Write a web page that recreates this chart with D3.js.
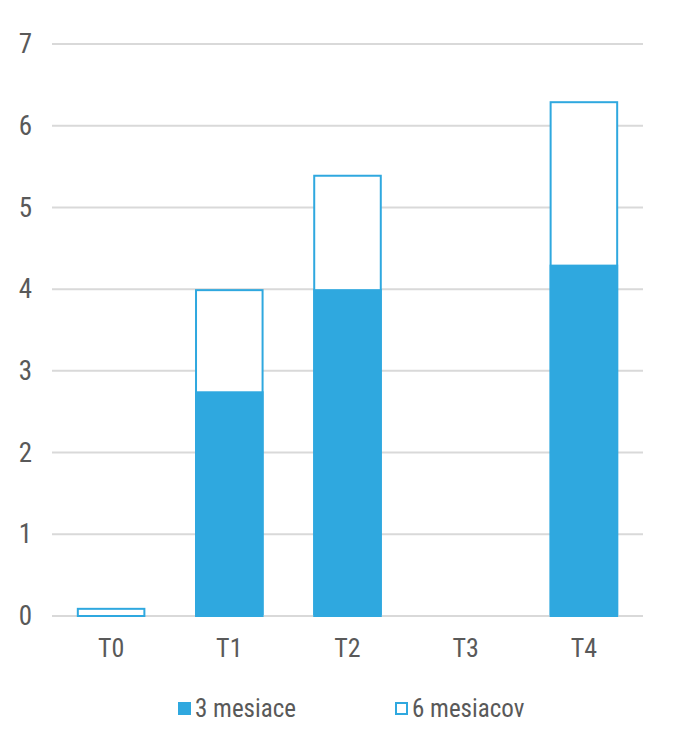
<!DOCTYPE html>
<html><head><meta charset="utf-8">
<script src="https://cdn.jsdelivr.net/npm/d3@7"></script>
<style>
html,body{margin:0;padding:0;background:#fff;}
text{font-family:"Liberation Sans Narrow","Arial Narrow","Roboto Condensed","Liberation Sans",sans-serif;fill:#595959;}
</style></head>
<body>
<svg id="chart" width="676" height="738"></svg>
<script>
const categories = ["T0","T1","T2","T3","T4"];
const seriesNames = ["3 mesiace","6 mesiacov"];
const values3m = [0, 2.75, 4.0, 0, 4.3];
const values6m = [0.1, 4.0, 5.4, 0, 6.3];
const yTicks = [0,1,2,3,4,5,6,7];

const blue = "#2fa8df";
const svg = d3.select("#chart");
const mLeft = 52, mRight = 643, mTop = 44, mBottom = 616;

const x = d3.scaleBand().domain(categories).range([mLeft, mRight]).paddingInner(0.42).paddingOuter(0.21);
const y = d3.scaleLinear().domain([0, 7]).range([mBottom, mTop]);

// gridlines
svg.append("g").selectAll("line").data(yTicks).join("line")
  .attr("x1", mLeft).attr("x2", mRight)
  .attr("y1", d => y(d)).attr("y2", d => y(d))
  .attr("stroke", "#d9d9d9").attr("stroke-width", 2);

// y axis labels
const yAxis = d3.axisLeft(y).tickValues(yTicks).tickSize(0).tickPadding(0).tickFormat(d3.format("d"));
const gy = svg.append("g").attr("transform", `translate(32,0)`).call(yAxis);
gy.select(".domain").remove();
gy.attr("font-family", null).attr("font-size", null);
gy.selectAll("text").attr("font-size", 27).attr("fill", "#595959");

// 6 mesiacov outline bars
svg.append("g").selectAll("rect").data(categories.map((c,i)=>({c, v: values6m[i]})).filter(d=>d.v>0)).join("rect")
  .attr("x", d => x(d.c) + 1).attr("width", x.bandwidth() - 2)
  .attr("y", d => y(d.v) + 1).attr("height", d => y(0) - y(d.v) - 1)
  .attr("fill", "#fff").attr("stroke", blue).attr("stroke-width", 2);

// 3 mesiace filled bars
svg.append("g").selectAll("rect").data(categories.map((c,i)=>({c, v: values3m[i]})).filter(d=>d.v>0)).join("rect")
  .attr("x", d => x(d.c)).attr("width", x.bandwidth())
  .attr("y", d => y(d.v)).attr("height", d => y(0) - y(d.v) - 1)
  .attr("fill", blue);

// x axis labels
const xAxis = d3.axisBottom(x).tickSize(0).tickPadding(0);
const gx = svg.append("g").attr("transform", `translate(0,${mBottom + 32})`).call(xAxis);
gx.select(".domain").remove();
gx.attr("font-family", null).attr("font-size", null);
gx.selectAll("text").attr("font-size", 26).attr("fill", "#595959").attr("dy", "0.35em");

// legend
const legend = svg.append("g");
const legX = [178, 395];
seriesNames.forEach((name, i) => {
  const g = legend.append("g").attr("transform", `translate(${legX[i]},702)`);
  if (i === 0) {
    g.append("rect").attr("x", 0).attr("y", 0).attr("width", 13).attr("height", 13).attr("fill", blue);
  } else {
    g.append("rect").attr("x", 1).attr("y", 1).attr("width", 11).attr("height", 11).attr("fill", "#fff").attr("stroke", blue).attr("stroke-width", 2);
  }
  g.append("text").attr("x", 17).attr("y", 6.5).attr("dy", "0.35em").attr("font-size", 25).text(name);
});
</script>
</body></html>
